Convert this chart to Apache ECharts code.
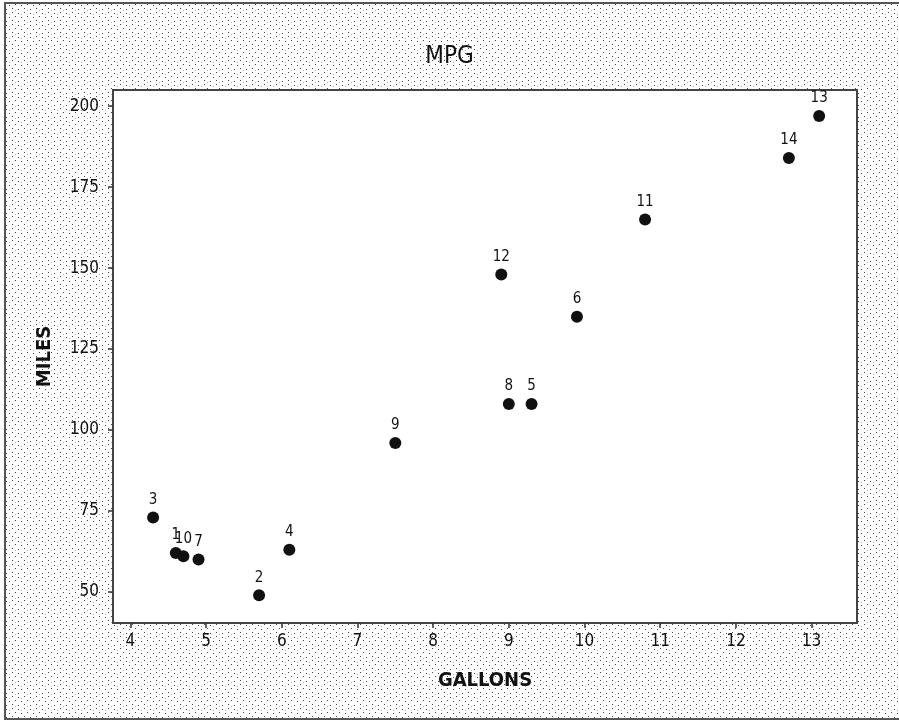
<!DOCTYPE html>
<html>
<head>
<meta charset="utf-8">
<script src="https://cdn.jsdelivr.net/npm/echarts@6/dist/echarts.min.js"></script>
<style>html,body{margin:0;padding:0;background:#fff;}#c{width:899px;height:723px;}</style>
</head>
<body>
<div id="c"></div>
<script>
const pointIds = ['1','2','3','4','5','6','7','8','9','10','11','12','13','14'];
const gallons = [4.6, 5.7, 4.3, 6.1, 9.3, 9.9, 4.9, 9.0, 7.5, 4.7, 10.8, 8.9, 13.1, 12.7];
const miles   = [62, 49, 73, 63, 108, 135, 60, 108, 96, 61, 165, 148, 197, 184];
const xTicks = [4, 5, 6, 7, 8, 9, 10, 11, 12, 13];
const yTicks = [50, 75, 100, 125, 150, 175, 200];

// decorative dotted background texture
const tile = document.createElement('canvas');
tile.width = 12; tile.height = 12;
const tc = tile.getContext('2d');
tc.fillStyle = '#fff'; tc.fillRect(0, 0, 12, 12);
tc.fillStyle = '#444';
[[0,0],[6,1],[3,4],[9,5],[0,8],[6,9]].forEach(p => tc.fillRect(p[0], p[1], 1, 1));
tc.fillStyle = '#aaa';
[[9,2],[3,10]].forEach(p => tc.fillRect(p[0], p[1], 1, 1));

const font = '"Liberation Sans Narrow", "DejaVu Sans Condensed", "Liberation Sans", sans-serif';
const data = gallons.map((g, i) => [g, miles[i], pointIds[i]]);

const chart = echarts.init(document.getElementById('c'));
chart.setOption({
  animation: false,
  graphic: [
    { type: 'rect', z: -10, shape: { x: 5, y: 3, width: 896, height: 716 },
      style: { fill: { image: tile, repeat: 'repeat' }, stroke: '#555', lineWidth: 2 } }
  ],
  title: {
    text: 'MPG', left: 'center', top: 40,
    textStyle: { fontFamily: font, fontSize: 24, fontWeight: 'normal', color: '#111' }
  },
  grid: {
    left: 113, right: 42, top: 90, bottom: 100,
    show: true, backgroundColor: '#fff', borderColor: '#444', borderWidth: 2
  },
  xAxis: {
    type: 'value', min: 3.77, max: 13.6,
    name: 'GALLONS', nameLocation: 'middle', nameGap: 48,
    nameTextStyle: { fontFamily: font, fontSize: 20, fontWeight: 'bold', color: '#111' },
    axisLine: { show: false },
    splitLine: { show: false },
    axisTick: { show: true, length: 5, customValues: xTicks, lineStyle: { color: '#333', width: 1.5 } },
    axisLabel: { customValues: xTicks, margin: 10, fontFamily: font, fontSize: 17, color: '#111' }
  },
  yAxis: {
    type: 'value', min: 40.4, max: 205,
    name: 'MILES', nameLocation: 'middle', nameGap: 58, nameRotate: 90,
    nameTextStyle: { fontFamily: font, fontSize: 20, fontWeight: 'bold', color: '#111' },
    axisLine: { show: false },
    splitLine: { show: false },
    axisTick: { show: true, length: 5, customValues: yTicks, lineStyle: { color: '#333', width: 1.5 } },
    axisLabel: { customValues: yTicks, margin: 14, fontFamily: font, fontSize: 17, color: '#111' }
  },
  series: [{
    type: 'scatter',
    data: data,
    symbolSize: 12,
    itemStyle: { color: '#111', opacity: 1 },
    label: {
      show: true, position: 'top', distance: 4,
      formatter: p => p.data[2],
      fontFamily: font, fontSize: 15, color: '#111'
    }
  }]
});
</script>
</body>
</html>
